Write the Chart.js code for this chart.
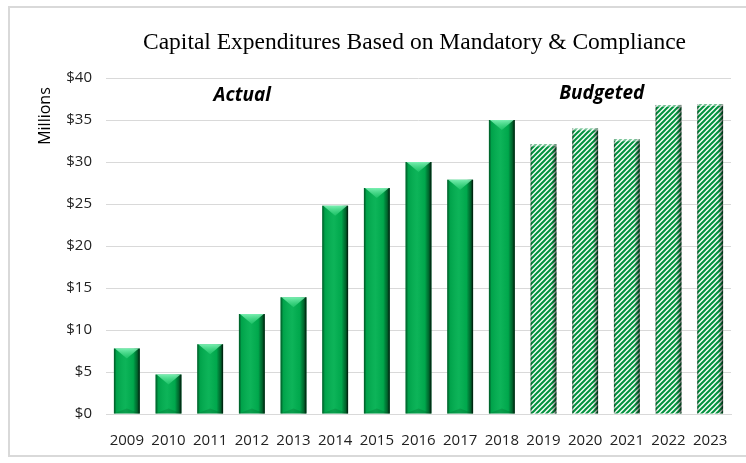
<!DOCTYPE html>
<html lang="en">
<head>
  <meta charset="UTF-8">
  <title>Capital Expenditures Based on Mandatory &amp; Compliance</title>
  <script src="https://cdn.jsdelivr.net/npm/chart.js"></script>
  <style>
    body {
      margin: 0;
      background: #fff;
    }
    #frame {
      position: absolute;
      left: 8px;
      top: 6px;
      width: 800px;
      height: 447px;
      border: 2px solid #d9d9d9;
    }
    #grafico {
      position: absolute;
      left: 0;
      top: 0;
    }
  </style>
</head>
<body>
<div id="frame"></div>
<canvas id="grafico" width="746" height="463"></canvas>

<script>
  const years = ['2009', '2010', '2011', '2012', '2013', '2014', '2015', '2016',
                 '2017', '2018', '2019', '2020', '2021', '2022', '2023'];
  // $ millions
  const actual = [7.8, 4.7, 8.3, 11.9, 13.9, 24.8, 26.9, 30.0, 27.9, 35.0,
                  null, null, null, null, null];
  const budgeted = [null, null, null, null, null, null, null, null, null, null,
                    32.1, 34.0, 32.7, 36.8, 36.9];
  const yTicks = [0, 5, 10, 15, 20, 25, 30, 35, 40];

  const tickFont = { family: 'Open Sans', size: 15 };

  // diagonal stripes for the budget years
  function stripes() {
    const s = 5;
    const c = document.createElement('canvas');
    c.width = s; c.height = s;
    const p = c.getContext('2d');
    p.fillStyle = '#f2fcf5';
    p.fillRect(0, 0, s, s);
    p.strokeStyle = '#00913d';
    p.lineWidth = 2;
    p.beginPath();
    p.moveTo(-1, s + 1); p.lineTo(s + 1, -1);
    p.moveTo(-1, 1); p.lineTo(1, -1);
    p.moveTo(s - 1, s + 1); p.lineTo(s + 1, s - 1);
    p.stroke();
    return p.createPattern(c, 'repeat');
  }

  // bevel + side shadow on top of each bar
  const barShading = {
    id: 'barShading',
    afterDatasetDraw(chart, args) {
      const ctx = chart.ctx;
      const hatched = args.index === 1;
      args.meta.data.forEach(bar => {
        const { x, y, base, width } = bar.getProps(['x', 'y', 'base', 'width'], true);
        if (isNaN(y) || base - y <= 0) return;
        const l = x - width / 2, r = x + width / 2, h = base - y;
        ctx.save();

        const g = ctx.createLinearGradient(l, 0, r, 0);
        if (hatched) {
          g.addColorStop(0, 'rgba(0,0,0,0.45)');
          g.addColorStop(0.08, 'rgba(0,0,0,0)');
          g.addColorStop(0.8, 'rgba(0,0,0,0)');
          g.addColorStop(0.92, 'rgba(0,0,0,0.35)');
          g.addColorStop(1, 'rgba(0,0,0,0.75)');
        } else {
          g.addColorStop(0, 'rgba(0,30,10,0.6)');
          g.addColorStop(0.1, 'rgba(0,0,0,0.08)');
          g.addColorStop(0.45, 'rgba(255,255,255,0.05)');
          g.addColorStop(0.75, 'rgba(0,0,0,0.05)');
          g.addColorStop(0.9, 'rgba(0,30,10,0.5)');
          g.addColorStop(1, 'rgba(0,0,0,0.9)');
        }
        ctx.fillStyle = g;
        ctx.fillRect(l, y, width, h);

        if (!hatched) {
          const bev = Math.min(10, h / 2);
          const tg = ctx.createLinearGradient(0, y, 0, y + bev);
          tg.addColorStop(0, 'rgba(150,255,200,0.8)');
          tg.addColorStop(1, 'rgba(60,220,130,0.4)');
          ctx.fillStyle = tg;
          ctx.beginPath();
          ctx.moveTo(l + 1, y);
          ctx.lineTo(r - 1, y);
          ctx.lineTo(x, y + bev);
          ctx.closePath();
          ctx.fill();
          ctx.fillStyle = 'rgba(0,60,20,0.18)';
          ctx.beginPath();
          ctx.moveTo(l, base);
          ctx.lineTo(r, base);
          ctx.lineTo(x, base - 5);
          ctx.closePath();
          ctx.fill();
        } else {
          ctx.fillStyle = 'rgba(255,255,255,0.45)';
          ctx.fillRect(l, y, width, 2);
        }
        ctx.restore();
      });
    }
  };

  // heading, axis caption and section labels
  const labels = {
    id: 'labels',
    afterDraw(chart) {
      const ctx = chart.ctx;
      const { left, right } = chart.chartArea;
      const xs = chart.scales.x, ys = chart.scales.y;
      ctx.save();
      ctx.fillStyle = '#000';
      ctx.textAlign = 'center';
      ctx.textBaseline = 'middle';

      ctx.font = '23.5px "Liberation Serif"';
      ctx.fillText('Capital Expenditures Based on Mandatory & Compliance', (left + right) / 2 - 4, 43);

      ctx.font = 'bold italic 19px "Open Sans"';
      ctx.fillText('Actual', xs.getPixelForValue(2.77), ys.getPixelForValue(37.9));
      ctx.fillText('Budgeted', xs.getPixelForValue(11.4), ys.getPixelForValue(38.2));

      ctx.translate(45, 116);
      ctx.rotate(-Math.PI / 2);
      ctx.font = '16px "Open Sans"';
      ctx.fillText('Millions', 0, 0);
      ctx.restore();
    }
  };

  const ctx = document.getElementById('grafico').getContext('2d');

  new Chart(ctx, {
    type: 'bar',
    data: {
      labels: years,
      datasets: [
        { label: 'Actual', data: actual, backgroundColor: '#00b050' },
        { label: 'Budgeted', data: budgeted, backgroundColor: stripes() }
      ]
    },
    options: {
      responsive: false,
      animation: false,
      layout: { padding: { left: 0, right: 15, top: 78, bottom: 0 } },
      datasets: {
        bar: { barPercentage: 0.62, categoryPercentage: 1 }
      },
      plugins: {
        legend: { display: false },
        tooltip: { enabled: false }
      },
      scales: {
        x: {
          stacked: true,
          grid: { display: false },
          border: { color: '#d9d9d9' },
          ticks: { color: '#222', font: tickFont, padding: 10, maxRotation: 0, autoSkip: false },
          afterFit(scale) { scale.height = 49; }
        },
        y: {
          stacked: true,
          min: 0,
          max: 40,
          afterBuildTicks(scale) { scale.ticks = yTicks.map(v => ({ value: v })); },
          grid: { color: '#d9d9d9', drawTicks: false },
          border: { display: false },
          ticks: {
            color: '#222',
            font: tickFont,
            padding: 14,
            callback: v => '$' + v
          },
          afterFit(scale) { scale.width = 106; }
        }
      }
    },
    plugins: [barShading, labels]
  });
</script>

</body>
</html>
